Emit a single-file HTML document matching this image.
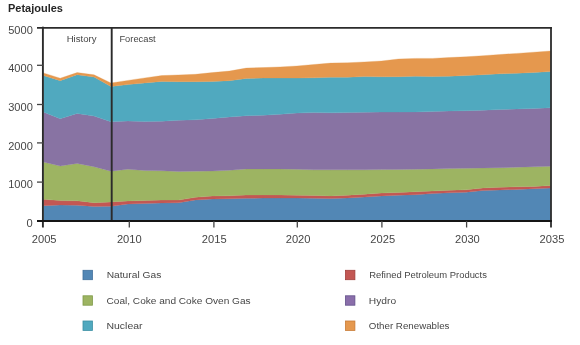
<!DOCTYPE html>
<html><head><meta charset="utf-8">
<style>
html,body{margin:0;padding:0;background:#fff;}
body{width:580px;height:345px;overflow:hidden;position:relative;font-family:"Liberation Sans",sans-serif;color:#333;}
svg{position:absolute;left:0;top:0;will-change:transform;}
</style></head><body>
<svg width="580" height="345" viewBox="0 0 580 345" font-family="Liberation Sans, sans-serif">
<path d="M43.30,205.70 L60.21,205.00 L77.12,205.20 L94.03,206.40 L110.94,206.30 L127.85,204.00 L144.76,203.50 L161.67,202.90 L178.58,202.80 L195.49,199.90 L212.40,199.10 L229.31,198.80 L246.22,198.30 L263.13,198.10 L280.04,198.00 L296.95,198.00 L313.86,198.20 L330.77,198.50 L347.68,197.90 L364.59,197.10 L381.50,195.90 L398.41,195.20 L415.32,194.70 L432.23,193.60 L449.14,192.80 L466.05,192.20 L482.96,190.50 L499.87,189.90 L516.78,189.40 L533.69,188.80 L550.60,188.10 L550.60,221.00 L533.69,221.00 L516.78,221.00 L499.87,221.00 L482.96,221.00 L466.05,221.00 L449.14,221.00 L432.23,221.00 L415.32,221.00 L398.41,221.00 L381.50,221.00 L364.59,221.00 L347.68,221.00 L330.77,221.00 L313.86,221.00 L296.95,221.00 L280.04,221.00 L263.13,221.00 L246.22,221.00 L229.31,221.00 L212.40,221.00 L195.49,221.00 L178.58,221.00 L161.67,221.00 L144.76,221.00 L127.85,221.00 L110.94,221.00 L94.03,221.00 L77.12,221.00 L60.21,221.00 L43.30,221.00 Z" fill="#5287b5" stroke="#5287b5" stroke-width="0.3"/>
<path d="M43.30,199.30 L60.21,200.60 L77.12,200.80 L94.03,202.70 L110.94,201.90 L127.85,200.90 L144.76,200.60 L161.67,200.10 L178.58,200.00 L195.49,197.30 L212.40,196.10 L229.31,195.80 L246.22,195.10 L263.13,194.90 L280.04,195.00 L296.95,195.20 L313.86,195.40 L330.77,195.90 L347.68,195.20 L364.59,194.20 L381.50,193.10 L398.41,192.50 L415.32,191.80 L432.23,191.10 L449.14,190.20 L466.05,189.80 L482.96,187.90 L499.87,187.30 L516.78,186.80 L533.69,186.40 L550.60,185.50 L550.60,188.10 L533.69,188.80 L516.78,189.40 L499.87,189.90 L482.96,190.50 L466.05,192.20 L449.14,192.80 L432.23,193.60 L415.32,194.70 L398.41,195.20 L381.50,195.90 L364.59,197.10 L347.68,197.90 L330.77,198.50 L313.86,198.20 L296.95,198.00 L280.04,198.00 L263.13,198.10 L246.22,198.30 L229.31,198.80 L212.40,199.10 L195.49,199.90 L178.58,202.80 L161.67,202.90 L144.76,203.50 L127.85,204.00 L110.94,206.30 L94.03,206.40 L77.12,205.20 L60.21,205.00 L43.30,205.70 Z" fill="#c35753" stroke="#c35753" stroke-width="0.3"/>
<path d="M43.30,162.00 L60.21,166.00 L77.12,163.40 L94.03,166.70 L110.94,171.20 L127.85,169.20 L144.76,170.50 L161.67,170.80 L178.58,171.50 L195.49,171.20 L212.40,171.00 L229.31,170.30 L246.22,168.90 L263.13,168.90 L280.04,168.90 L296.95,169.30 L313.86,169.80 L330.77,169.80 L347.68,169.80 L364.59,169.80 L381.50,169.60 L398.41,169.40 L415.32,169.30 L432.23,168.90 L449.14,168.60 L466.05,168.30 L482.96,168.00 L499.87,167.70 L516.78,167.20 L533.69,166.80 L550.60,166.30 L550.60,185.50 L533.69,186.40 L516.78,186.80 L499.87,187.30 L482.96,187.90 L466.05,189.80 L449.14,190.20 L432.23,191.10 L415.32,191.80 L398.41,192.50 L381.50,193.10 L364.59,194.20 L347.68,195.20 L330.77,195.90 L313.86,195.40 L296.95,195.20 L280.04,195.00 L263.13,194.90 L246.22,195.10 L229.31,195.80 L212.40,196.10 L195.49,197.30 L178.58,200.00 L161.67,200.10 L144.76,200.60 L127.85,200.90 L110.94,201.90 L94.03,202.70 L77.12,200.80 L60.21,200.60 L43.30,199.30 Z" fill="#9db462" stroke="#9db462" stroke-width="0.3"/>
<path d="M43.30,112.00 L60.21,118.70 L77.12,113.40 L94.03,116.00 L110.94,121.80 L127.85,121.00 L144.76,121.60 L161.67,121.20 L178.58,120.30 L195.49,119.80 L212.40,118.50 L229.31,116.90 L246.22,115.70 L263.13,115.20 L280.04,114.30 L296.95,113.10 L313.86,112.60 L330.77,112.80 L347.68,112.60 L364.59,112.20 L381.50,112.10 L398.41,112.10 L415.32,111.90 L432.23,111.60 L449.14,111.00 L466.05,110.70 L482.96,110.20 L499.87,109.50 L516.78,109.00 L533.69,108.40 L550.60,107.80 L550.60,166.30 L533.69,166.80 L516.78,167.20 L499.87,167.70 L482.96,168.00 L466.05,168.30 L449.14,168.60 L432.23,168.90 L415.32,169.30 L398.41,169.40 L381.50,169.60 L364.59,169.80 L347.68,169.80 L330.77,169.80 L313.86,169.80 L296.95,169.30 L280.04,168.90 L263.13,168.90 L246.22,168.90 L229.31,170.30 L212.40,171.00 L195.49,171.20 L178.58,171.50 L161.67,170.80 L144.76,170.50 L127.85,169.20 L110.94,171.20 L94.03,166.70 L77.12,163.40 L60.21,166.00 L43.30,162.00 Z" fill="#8873a3" stroke="#8873a3" stroke-width="0.3"/>
<path d="M43.30,75.50 L60.21,80.70 L77.12,74.70 L94.03,77.00 L110.94,86.50 L127.85,84.60 L144.76,82.90 L161.67,81.40 L178.58,81.70 L195.49,81.70 L212.40,81.40 L229.31,80.70 L246.22,78.40 L263.13,78.10 L280.04,78.00 L296.95,78.10 L313.86,77.80 L330.77,77.20 L347.68,77.20 L364.59,76.60 L381.50,76.80 L398.41,76.70 L415.32,76.20 L432.23,76.60 L449.14,76.20 L466.05,75.60 L482.96,74.70 L499.87,73.80 L516.78,73.30 L533.69,72.40 L550.60,71.60 L550.60,107.80 L533.69,108.40 L516.78,109.00 L499.87,109.50 L482.96,110.20 L466.05,110.70 L449.14,111.00 L432.23,111.60 L415.32,111.90 L398.41,112.10 L381.50,112.10 L364.59,112.20 L347.68,112.60 L330.77,112.80 L313.86,112.60 L296.95,113.10 L280.04,114.30 L263.13,115.20 L246.22,115.70 L229.31,116.90 L212.40,118.50 L195.49,119.80 L178.58,120.30 L161.67,121.20 L144.76,121.60 L127.85,121.00 L110.94,121.80 L94.03,116.00 L77.12,113.40 L60.21,118.70 L43.30,112.00 Z" fill="#50a9bf" stroke="#50a9bf" stroke-width="0.3"/>
<path d="M43.30,72.90 L60.21,78.20 L77.12,72.60 L94.03,74.80 L110.94,83.00 L127.85,80.40 L144.76,77.90 L161.67,75.60 L178.58,74.90 L195.49,74.30 L212.40,72.60 L229.31,71.10 L246.22,68.10 L263.13,67.60 L280.04,66.90 L296.95,66.00 L313.86,64.50 L330.77,63.10 L347.68,62.80 L364.59,61.90 L381.50,61.00 L398.41,59.00 L415.32,58.40 L432.23,58.40 L449.14,57.50 L466.05,56.80 L482.96,55.70 L499.87,54.50 L516.78,53.40 L533.69,52.20 L550.60,51.00 L550.60,71.60 L533.69,72.40 L516.78,73.30 L499.87,73.80 L482.96,74.70 L466.05,75.60 L449.14,76.20 L432.23,76.60 L415.32,76.20 L398.41,76.70 L381.50,76.80 L364.59,76.60 L347.68,77.20 L330.77,77.20 L313.86,77.80 L296.95,78.10 L280.04,78.00 L263.13,78.10 L246.22,78.40 L229.31,80.70 L212.40,81.40 L195.49,81.70 L178.58,81.70 L161.67,81.40 L144.76,82.90 L127.85,84.60 L110.94,86.50 L94.03,77.00 L77.12,74.70 L60.21,80.70 L43.30,75.50 Z" fill="#e5984e" stroke="#e5984e" stroke-width="0.3"/>

<g stroke="#2b2b2b" fill="none">
<line x1="37" y1="27.8" x2="551.9" y2="27.8" stroke-width="1.8"/>
<line x1="42.9" y1="26.7" x2="42.9" y2="227.5" stroke-width="1.9"/>
<line x1="551" y1="26.9" x2="551" y2="227.5" stroke-width="1.8"/>
<line x1="111.7" y1="27.6" x2="111.7" y2="221" stroke-width="1.9"/>
<line x1="37" y1="220.9" x2="551.9" y2="220.9" stroke-width="2" stroke="#151515"/>
</g>
<g stroke="#444" stroke-width="1.3">
<line x1="37" y1="65.3" x2="43" y2="65.3"/>
<line x1="37" y1="104.5" x2="43" y2="104.5"/>
<line x1="37" y1="142.9" x2="43" y2="142.9"/>
<line x1="37" y1="182.1" x2="43" y2="182.1"/>
<line x1="129.3" y1="221" x2="129.3" y2="227.5"/>
<line x1="213.9" y1="221" x2="213.9" y2="227.5"/>
<line x1="297.3" y1="221" x2="297.3" y2="227.5"/>
<line x1="381.9" y1="221" x2="381.9" y2="227.5"/>
<line x1="466.6" y1="221" x2="466.6" y2="227.5"/>
</g>


<g fill="#464646" font-size="10">
<text x="8.0" y="11.7" font-weight="bold" font-size="10.4" fill="#262626" textLength="54.9" lengthAdjust="spacingAndGlyphs">Petajoules</text>
<g text-anchor="end">
<text x="32.8" y="33.5" textLength="24.6" lengthAdjust="spacingAndGlyphs">5000</text>
<text x="32.8" y="71.6" textLength="24.6" lengthAdjust="spacingAndGlyphs">4000</text>
<text x="32.8" y="111.0" textLength="24.6" lengthAdjust="spacingAndGlyphs">3000</text>
<text x="32.8" y="149.5" textLength="24.6" lengthAdjust="spacingAndGlyphs">2000</text>
<text x="32.8" y="188.3" textLength="24.6" lengthAdjust="spacingAndGlyphs">1000</text>
<text x="32.8" y="226.8" textLength="6.2" lengthAdjust="spacingAndGlyphs">0</text>
</g>
<g text-anchor="middle">
<text x="44.15" y="242.9" textLength="24.8" lengthAdjust="spacingAndGlyphs">2005</text>
<text x="129.3" y="242.9" textLength="24.8" lengthAdjust="spacingAndGlyphs">2010</text>
<text x="214.2" y="242.9" textLength="24.8" lengthAdjust="spacingAndGlyphs">2015</text>
<text x="298.1" y="242.9" textLength="24.8" lengthAdjust="spacingAndGlyphs">2020</text>
<text x="382.7" y="242.9" textLength="24.8" lengthAdjust="spacingAndGlyphs">2025</text>
<text x="467.4" y="242.9" textLength="24.8" lengthAdjust="spacingAndGlyphs">2030</text>
<text x="551.95" y="242.9" textLength="24.8" lengthAdjust="spacingAndGlyphs">2035</text>
</g>
<text x="66.7" y="42.3" font-size="9.7" textLength="29.9" lengthAdjust="spacingAndGlyphs">History</text>
<text x="119.4" y="42.3" font-size="9.7" textLength="36.3" lengthAdjust="spacingAndGlyphs">Forecast</text>
<text x="106.7" y="278.0" font-size="9.7" textLength="54.6" lengthAdjust="spacingAndGlyphs">Natural Gas</text>
<text x="106.5" y="303.8" font-size="9.7" textLength="144.1" lengthAdjust="spacingAndGlyphs">Coal, Coke and Coke Oven Gas</text>
<text x="106.5" y="328.6" font-size="9.7" textLength="36" lengthAdjust="spacingAndGlyphs">Nuclear</text>
<text x="369.2" y="278.0" font-size="9.7" textLength="117.7" lengthAdjust="spacingAndGlyphs">Refined Petroleum Products</text>
<text x="368.8" y="303.8" font-size="9.7" textLength="27.3" lengthAdjust="spacingAndGlyphs">Hydro</text>
<text x="368.8" y="328.7" font-size="9.7" textLength="80.7" lengthAdjust="spacingAndGlyphs">Other Renewables</text>
</g>
<g stroke-width="0.8">
<rect x="83" y="270.3" width="9.4" height="9.4" fill="#5287b5" stroke="#3f6f9c"/>
<rect x="83" y="295.8" width="9.4" height="9.4" fill="#9db462" stroke="#7f9a48"/>
<rect x="83" y="321" width="9.4" height="9.4" fill="#50a9bf" stroke="#3a8fa3"/>
<rect x="345.5" y="270.3" width="9.4" height="9.4" fill="#c35753" stroke="#a23f3b"/>
<rect x="345.5" y="295.8" width="9.4" height="9.4" fill="#8a6eaa" stroke="#62508a"/>
<rect x="345.5" y="321" width="9.4" height="9.4" fill="#e5984e" stroke="#c97b35"/>
</g>

</svg>
</body></html>
